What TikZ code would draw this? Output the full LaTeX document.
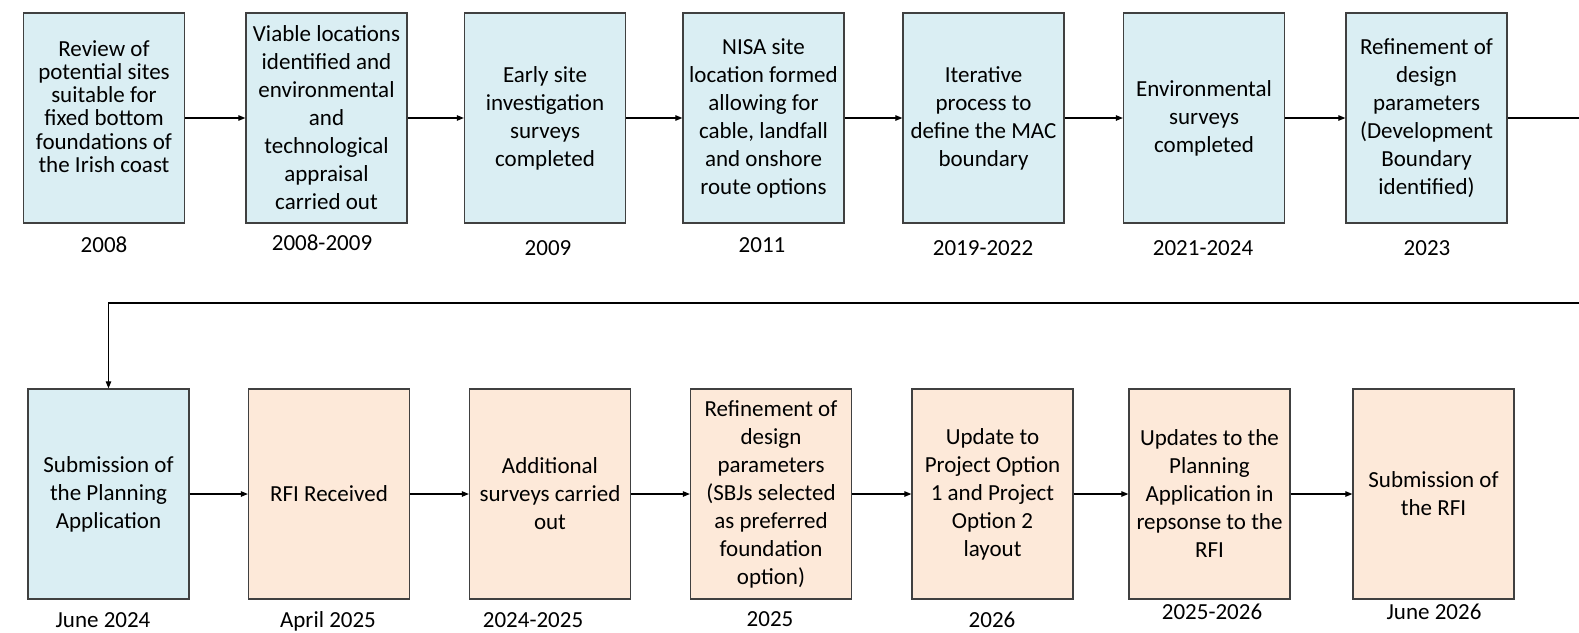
\documentclass[tikz,border=0pt]{standalone}
\usepackage{fontspec}
\setmainfont{Carlito}
\usepackage{xcolor}
\usetikzlibrary{positioning,arrows.meta}

\definecolor{stepblue}{HTML}{DAEEF3}
\definecolor{steppeach}{HTML}{FDE9D9}
\definecolor{stepline}{HTML}{404040}

\tikzset{
    stagebox/.style={draw=stepline, line width=1.3pt, minimum width=161pt, minimum height=210pt,
        inner sep=0pt, align=center, font=\fontsize{23}{28}\selectfont},
    donebox/.style={stagebox, fill=stepblue},
    rfibox/.style={stagebox, fill=steppeach},
    yearlbl/.style={anchor=base, inner sep=0pt, font=\fontsize{23}{28}\selectfont}
}

\begin{document}
\begin{tikzpicture}[x=1pt, y=-1pt, line width=1.1pt, >={Triangle[length=7pt,width=5.5pt]}]
    \useasboundingbox (0,0) rectangle (1579,632);

    % top row
    \node[donebox, font=\fontsize{23}{23.3}\selectfont] (s1) at (104,118) {Review of\\potential sites\\suitable for\\fixed bottom\\foundations of\\the Irish coast\\\mbox{}};
    \node[donebox] (s2) at (326.5,118) {Viable locations\\identified and\\environmental\\and\\technological\\appraisal\\carried out};
    \node[donebox] (s3) at (545,118) {Early site\\investigation\\surveys\\completed};
    \node[donebox] (s4) at (763.5,118) {NISA site\\location formed\\allowing for\\cable, landfall\\and onshore\\route options};
    \node[donebox] (s5) at (983.5,118) {Iterative\\process to\\define the MAC\\boundary};
    \node[donebox] (s6) at (1204,118) {Environmental\\surveys\\completed};
    \node[donebox] (s7) at (1426.5,118) {Refinement of\\design\\parameters\\(Development\\Boundary\\identified)};

    \node[yearlbl] (y1) at (104,252) {2008};
    \node[yearlbl] (y2) at (322,250) {2008-2009};
    \node[yearlbl] (y3) at (548,255) {2009};
    \node[yearlbl] (y4) at (762,252) {2011};
    \node[yearlbl] (y5) at (983,255) {2019-2022};
    \node[yearlbl] (y6) at (1203,255) {2021-2024};
    \node[yearlbl] (y7) at (1427,255) {2023};

    % bottom row
    \node[donebox] (r1) at (108.5,494) {Submission of\\the Planning\\Application};
    \node[rfibox] (r2) at (329,494) {RFI Received};
    \node[rfibox] (r3) at (550,494) {Additional\\surveys carried\\out};
    \node[rfibox] (r4) at (771,494) {Refinement of\\design\\parameters\\(SBJs selected\\as preferred\\foundation\\option)};
    \node[rfibox] (r5) at (992.5,494) {Update to\\Project Option\\1 and Project\\Option 2\\layout};
    \node[rfibox] (r6) at (1209.5,494) {Updates to the\\Planning\\Application in\\repsonse to the\\RFI};
    \node[rfibox] (r7) at (1433.5,494) {Submission of\\the RFI};

    \node[yearlbl] (z1) at (103,627) {June 2024};
    \node[yearlbl] (z2) at (328,627) {April 2025};
    \node[yearlbl] (z3) at (533,627) {2024-2025};
    \node[yearlbl] (z4) at (770,626) {2025};
    \node[yearlbl] (z5) at (992,627) {2026};
    \node[yearlbl] (z6) at (1212,619) {2025-2026};
    \node[yearlbl] (z7) at (1434,619) {June 2026};

    % connectors
    \draw[->] (s1) edge (s2);
    \draw[->] (s2) edge (s3);
    \draw[->] (s3) edge (s4);
    \draw[->] (s4) edge (s5);
    \draw[->] (s5) edge (s6);
    \draw[->] (s6) edge (s7);

    \coordinate (e1) at (1579,118);
    \coordinate (e2) at (1579,303);
    \draw (s7) -- (e1);
    \draw[->] (e2) -| (r1);

    \draw[->] (r1) edge (r2);
    \draw[->] (r2) edge (r3);
    \draw[->] (r3) edge (r4);
    \draw[->] (r4) edge (r5);
    \draw[->] (r5) edge (r6);
    \draw[->] (r6) edge (r7);
\end{tikzpicture}
\end{document}
